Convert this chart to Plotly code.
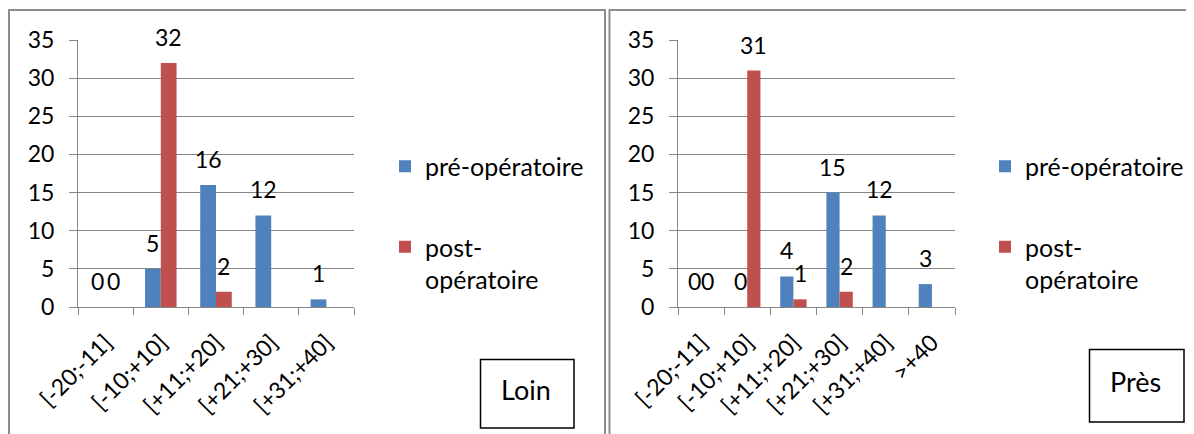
import plotly.graph_objects as go

# ---------------- data ----------------
cats_loin = ["[-20;-11]", "[-10;+10]", "[+11;+20]", "[+21;+30]", "[+31;+40]"]
pre_loin = [0, 5, 16, 12, 1]
post_loin = [0, 32, 2, None, None]

cats_pres = ["[-20;-11]", "[-10;+10]", "[+11;+20]", "[+21;+30]", "[+31;+40]", ">+40"]
pre_pres = [0, 0, 4, 15, 12, 3]
post_pres = [0, 31, 1, 2, None, None]

series_names = ["pré-opératoire", "post-<br>opératoire"]
panel_titles = ["Loin", "Près"]
y_tickvals = [0, 5, 10, 15, 20, 25, 30, 35]

# ---------------- style ----------------
PAGE_OFF = 8                      # default body margin of the html page
W, H = 1194 - PAGE_OFF, 434 - PAGE_OFF
BLUE = "#4F81BD"
RED = "#C0504D"
GRID = "#868686"
FONT = "Lato"
FS = 23
FS_X = 23
FS_LEG = 25
BARGAP = 1.5 / 3.5


def px(x):
    return (x - PAGE_OFF) / W


def py(y):
    return 1 - (y - PAGE_OFF) / H


panels = [
    dict(cats=cats_loin, pre=pre_loin, post=post_loin, x0=78, x1=354,
         xa="x", ya="y", leg="legend", title=panel_titles[0]),
    dict(cats=cats_pres, pre=pre_pres, post=post_pres, x0=678, x1=955,
         xa="x2", ya="y2", leg="legend2", title=panel_titles[1]),
]
Y_TOP, Y_BOT = 40, 307

fig = go.Figure()
annotations = []
for p in panels:
    for k, (vals, color) in enumerate([(p["pre"], BLUE), (p["post"], RED)]):
        fig.add_trace(go.Bar(
            x=p["cats"], y=vals, name=series_names[k],
            marker=dict(color=color, line=dict(width=0)),
            xaxis=p["xa"], yaxis=p["ya"], legend=p["leg"],
            legendgroup=f"{p['leg']}_{k}",
        ))
    catw = (p["x1"] - p["x0"]) / len(p["cats"])
    barw = catw * (1 - BARGAP) / 2
    for k, vals in enumerate([p["pre"], p["post"]]):
        shift = (-0.5 if k == 0 else 0.5) * barw
        for c, v in zip(p["cats"], vals):
            if v is None:
                continue
            annotations.append(dict(
                x=c, y=v, xref=p["xa"], yref=p["ya"], text=str(v),
                showarrow=False, xshift=shift, yshift=26,
                xanchor="center", yanchor="middle",
                font=dict(family=FONT, size=FS, color="black"),
            ))

axis_common_x = dict(
    type="category", showline=True, linecolor=GRID, linewidth=1,
    ticks="outside", tickson="boundaries", ticklen=7, tickcolor=GRID,
    tickangle=-45, showgrid=False, zeroline=False, automargin=False,
    ticklabelstandoff=12,
    tickfont=dict(family=FONT, size=FS_X, color="black"), fixedrange=True,
)
axis_common_y = dict(
    range=[0, 35], tickvals=y_tickvals, showline=True, linecolor=GRID,
    linewidth=1, ticks="outside", ticklen=8, tickcolor=GRID,
    showgrid=True, gridcolor=GRID, gridwidth=1, zeroline=False,
    automargin=False,
    tickfont=dict(family=FONT, size=FS, color="black"),
    ticklabelstandoff=10, fixedrange=True,
)

fig.update_layout(
    template="none",
    width=W, height=H, autosize=False,
    margin=dict(l=0, r=0, t=0, b=0, pad=0, autoexpand=False),
    paper_bgcolor="white", plot_bgcolor="white",
    barmode="group", bargap=BARGAP, bargroupgap=0,
    xaxis=dict(domain=[px(78), px(354)], anchor="y", **axis_common_x),
    yaxis=dict(domain=[py(Y_BOT), py(Y_TOP)], anchor="x", **axis_common_y),
    xaxis2=dict(domain=[px(678), px(955)], anchor="y2", **axis_common_x),
    yaxis2=dict(domain=[py(Y_BOT), py(Y_TOP)], anchor="x2", **axis_common_y),
    legend=dict(x=px(385), y=py(143.5), xanchor="left", yanchor="top",
                traceorder="grouped", tracegroupgap=45, valign="top",
                font=dict(family=FONT, size=FS_LEG, color="black"),
                bgcolor="rgba(0,0,0,0)", borderwidth=0),
    legend2=dict(x=px(985), y=py(143.5), xanchor="left", yanchor="top",
                 traceorder="grouped", tracegroupgap=45, valign="top",
                 font=dict(family=FONT, size=FS_LEG, color="black"),
                 bgcolor="rgba(0,0,0,0)", borderwidth=0),
    showlegend=True,
)

shapes = [
    # panel frames
    dict(type="rect", xref="paper", yref="paper", x0=px(9), x1=px(605),
         y0=py(470), y1=py(10), line=dict(color="#8C8C8C", width=2)),
    dict(type="rect", xref="paper", yref="paper", x0=px(609.5), x1=px(1230),
         y0=py(470), y1=py(10), line=dict(color="#8C8C8C", width=2)),
    # title boxes
    dict(type="rect", xref="paper", yref="paper", x0=px(480.5), x1=px(574),
         y0=py(428), y1=py(359.5), line=dict(color="black", width=1.5)),
    dict(type="rect", xref="paper", yref="paper", x0=px(1089.5), x1=px(1184),
         y0=py(422), y1=py(349.5), line=dict(color="black", width=1.5)),
]
annotations.append(dict(x=px(526), y=py(389), xref="paper", yref="paper",
                        text=panel_titles[0], showarrow=False,
                        xanchor="center", yanchor="middle",
                        font=dict(family=FONT, size=27, color="black")))
annotations.append(dict(x=px(1135), y=py(381), xref="paper", yref="paper",
                        text=panel_titles[1], showarrow=False,
                        xanchor="center", yanchor="middle",
                        font=dict(family=FONT, size=27, color="black")))

fig.update_layout(shapes=shapes, annotations=annotations)
fig.write_html("out.html")
